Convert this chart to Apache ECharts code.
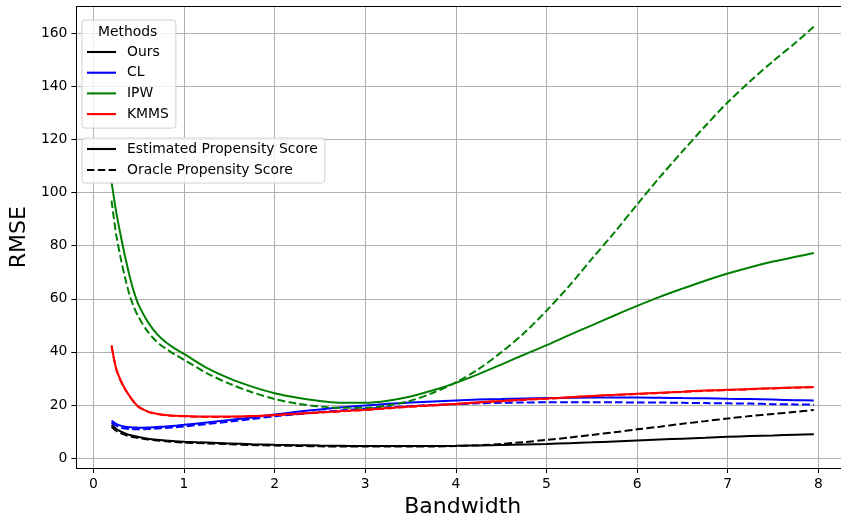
<!DOCTYPE html>
<html>
<head>
<meta charset="utf-8">
<script src="https://cdn.jsdelivr.net/npm/echarts@6/dist/echarts.min.js"></script>
<style>html,body{margin:0;padding:0;background:#fff;}#c{width:841px;height:523px;}</style>
</head>
<body>
<div id="c"></div>
<script>
const bandwidth = [0.2,0.25,0.3,0.35,0.4,0.45,0.5,0.6,0.7,0.8,0.9,1.0,1.25,1.5,1.75,2.0,2.25,2.5,2.75,3.0,3.25,3.5,3.75,4.0,4.25,4.5,4.75,5.0,5.25,5.5,5.75,6.0,6.25,6.5,6.75,7.0,7.25,7.5,7.75,7.95];

const oursEst   = [12.5,11.0,10.0,9.3,8.7,8.3,7.9,7.3,6.9,6.6,6.3,6.1,5.8,5.5,5.2,5.0,4.85,4.7,4.6,4.5,4.5,4.5,4.55,4.6,4.75,4.9,5.1,5.3,5.6,5.9,6.25,6.6,6.95,7.3,7.65,8.0,8.25,8.5,8.8,9.0];
const oursOra   = [11.8,10.3,9.4,8.7,8.2,7.8,7.5,7.0,6.6,6.3,6.0,5.8,5.5,5.2,4.9,4.7,4.55,4.4,4.35,4.3,4.3,4.3,4.35,4.5,4.8,5.3,6.0,6.8,7.7,8.7,9.7,10.8,11.8,12.9,13.9,14.9,15.8,16.6,17.4,18.1];
const clEst     = [14.0,12.9,12.2,11.8,11.6,11.5,11.4,11.5,11.7,11.9,12.2,12.5,13.4,14.3,15.3,16.4,17.4,18.3,19.1,19.8,20.4,20.9,21.3,21.7,22.0,22.2,22.4,22.6,22.7,22.8,22.8,22.8,22.7,22.6,22.5,22.3,22.2,22.0,21.8,21.7];
const clOra     = [13.3,12.2,11.5,11.1,10.9,10.8,10.8,10.9,11.1,11.3,11.6,11.9,12.8,13.7,14.7,15.7,16.5,17.3,18.0,18.6,19.1,19.6,20.0,20.3,20.6,20.8,20.9,21.0,21.0,21.0,21.0,20.9,20.9,20.8,20.7,20.6,20.5,20.3,20.2,20.1];
const ipwEst    = [104,93,84,75.8,68.5,62.3,57.6,51.3,46.8,43.6,41.2,39.2,34,30,26.9,24.4,22.7,21.5,20.8,20.8,21.6,23.2,25.5,28.3,31.6,35.2,38.9,42.5,46.3,50,53.7,57.3,60.7,63.8,66.8,69.5,71.9,74,75.8,77.2];
const ipwOra    = [97,84.5,75.5,67.8,61.3,56.6,53,47.6,43.8,41.2,39,37,32,28,24.8,22.2,20.5,19.4,18.9,18.9,19.8,21.6,24.6,28.5,33.5,39.8,47,55.5,64.8,75,85,95.5,105.8,115.5,125,134,142,149.5,156.5,162.5];
const kmmsEst   = [42.4,33.8,29.3,26,23.3,21,19.3,17.5,16.7,16.2,15.9,15.8,15.6,15.6,15.8,16.2,16.7,17.2,17.7,18.2,18.8,19.4,19.9,20.4,21.0,21.5,22.0,22.4,22.9,23.4,23.8,24.2,24.6,25.0,25.4,25.7,26.0,26.3,26.6,26.8];
const kmmsOra   = [42.3,33.7,29.2,25.9,23.2,21,19.2,17.5,16.6,16.1,15.8,15.7,15.5,15.5,15.7,16.1,16.6,17.1,17.6,18.1,18.7,19.3,19.8,20.3,20.9,21.4,21.9,22.3,22.8,23.3,23.7,24.1,24.5,24.9,25.3,25.6,25.9,26.2,26.5,26.7];

const xTicks = [0,1,2,3,4,5,6,7,8];
const yTicks = [0,20,40,60,80,100,120,140,160];
const methodNames = ['Ours','CL','IPW','KMMS'];
const styleNames = ['Estimated Propensity Score','Oracle Propensity Score'];

const colors = {Ours:'#000000', CL:'#0000ff', IPW:'#008000', KMMS:'#ff0000'};
const DASH = [7.7, 3.3];
const FONT = 'DejaVu Sans';
const SOLID_ICON = 'path://M0,0H29V2.1H0Z';
const DASH_ICON = 'path://M0,0H7.4V2.1H0Z M10.8,0H18.2V2.1H10.8Z M21.6,0H29V2.1H21.6Z';

function pairs(ys){ return bandwidth.map((x,i)=>[x, ys[i]]); }

const dataSeries = [
  ['Ours', oursEst, false], ['Ours', oursOra, true],
  ['CL', clEst, false], ['CL', clOra, true],
  ['IPW', ipwEst, false], ['IPW', ipwOra, true],
  ['KMMS', kmmsEst, false], ['KMMS', kmmsOra, true]
];

const series = [];
dataSeries.forEach(([m, ys, dashed]) => {
  series.push({
    type:'line', name: m + (dashed ? ' (oracle)' : ' (estimated)'),
    data: pairs(ys), showSymbol:false, symbol:'none', smooth:0.3,
    lineStyle:{color:colors[m], width:2, type: dashed ? DASH : 'solid'},
    itemStyle:{color:colors[m]}, silent:true, animation:false
  });
});
methodNames.forEach(m => series.push({
  type:'line', name:m, data:[], symbol:'none',
  lineStyle:{color:colors[m], width:2}, itemStyle:{color:colors[m]}, animation:false
}));
styleNames.forEach((s,i) => series.push({
  type:'line', name:s, data:[], symbol:'none',
  lineStyle:{color:'#000', width:2, type: i ? DASH : 'solid'}, itemStyle:{color:'#000'}, animation:false
}));

const chart = echarts.init(document.getElementById('c'), null, {renderer:'canvas'});
chart.setOption({
  animation:false,
  backgroundColor:'#ffffff',
  textStyle:{fontFamily:FONT},
  grid:{left:75.3, right:0, top:6.5, bottom:54.7, show:false},
  xAxis:[{
    type:'value', min:-0.1875, max:8.25,
    name:'Bandwidth', nameLocation:'middle', nameGap:28,
    nameTextStyle:{fontFamily:FONT, fontSize:22, color:'#000', padding:[0,0,0,8]},
    axisLine:{show:true, onZero:false, lineStyle:{color:'#000', width:1}},
    axisTick:{show:true, length:5, lineStyle:{color:'#000'}, customValues:xTicks},
    axisLabel:{customValues:xTicks, margin:9, fontFamily:FONT, fontSize:13.9, color:'#000'},
    splitLine:{show:true, lineStyle:{color:'#b0b0b0', width:1}}
  },{
    type:'value', min:-0.1875, max:8.25, position:'top',
    axisLine:{show:true, onZero:false, lineStyle:{color:'#000', width:1}},
    axisTick:{show:false}, axisLabel:{show:false}, splitLine:{show:false}
  }],
  yAxis:{
    type:'value', min:-3.76, max:170.1,
    name:'RMSE', nameLocation:'middle', nameGap:44,
    nameTextStyle:{fontFamily:FONT, fontSize:22, color:'#000'},
    axisLine:{show:true, onZero:false, lineStyle:{color:'#000', width:1}},
    axisTick:{show:true, length:5, lineStyle:{color:'#000'}, customValues:yTicks},
    axisLabel:{customValues:yTicks, margin:9, fontFamily:FONT, fontSize:13.9, color:'#000'},
    splitLine:{show:true, lineStyle:{color:'#b0b0b0', width:1}}
  },
  legend:[
    {
      data:methodNames.map(n=>({name:n, icon:SOLID_ICON})), orient:'vertical', left:82, top:20,
      padding:[25,7,7,5], itemGap:6.7, itemWidth:29, itemHeight:2.1,
      selectedMode:false, backgroundColor:'rgba(255,255,255,0.8)',
      borderColor:'#d0d0d0', borderWidth:1, borderRadius:3,
      textStyle:{fontFamily:FONT, fontSize:13.9, color:'#000', padding:[0,0,0,6]}
    },
    {
      data:[{name:styleNames[0], icon:SOLID_ICON},{name:styleNames[1], icon:DASH_ICON}],
      orient:'vertical', left:82, top:138,
      padding:[4,7,6,5], itemGap:7, itemWidth:29, itemHeight:2.1,
      selectedMode:false, backgroundColor:'rgba(255,255,255,0.8)',
      borderColor:'#d0d0d0', borderWidth:1, borderRadius:3,
      textStyle:{fontFamily:FONT, fontSize:13.9, color:'#000', padding:[0,0,0,6]}
    }
  ],
  graphic:[{
    type:'text', left:98, top:25, z:100,
    style:{text:'Methods', fontFamily:FONT, fontSize:13.9, fill:'#000'}
  }],
  series: series
});
</script>
</body>
</html>
